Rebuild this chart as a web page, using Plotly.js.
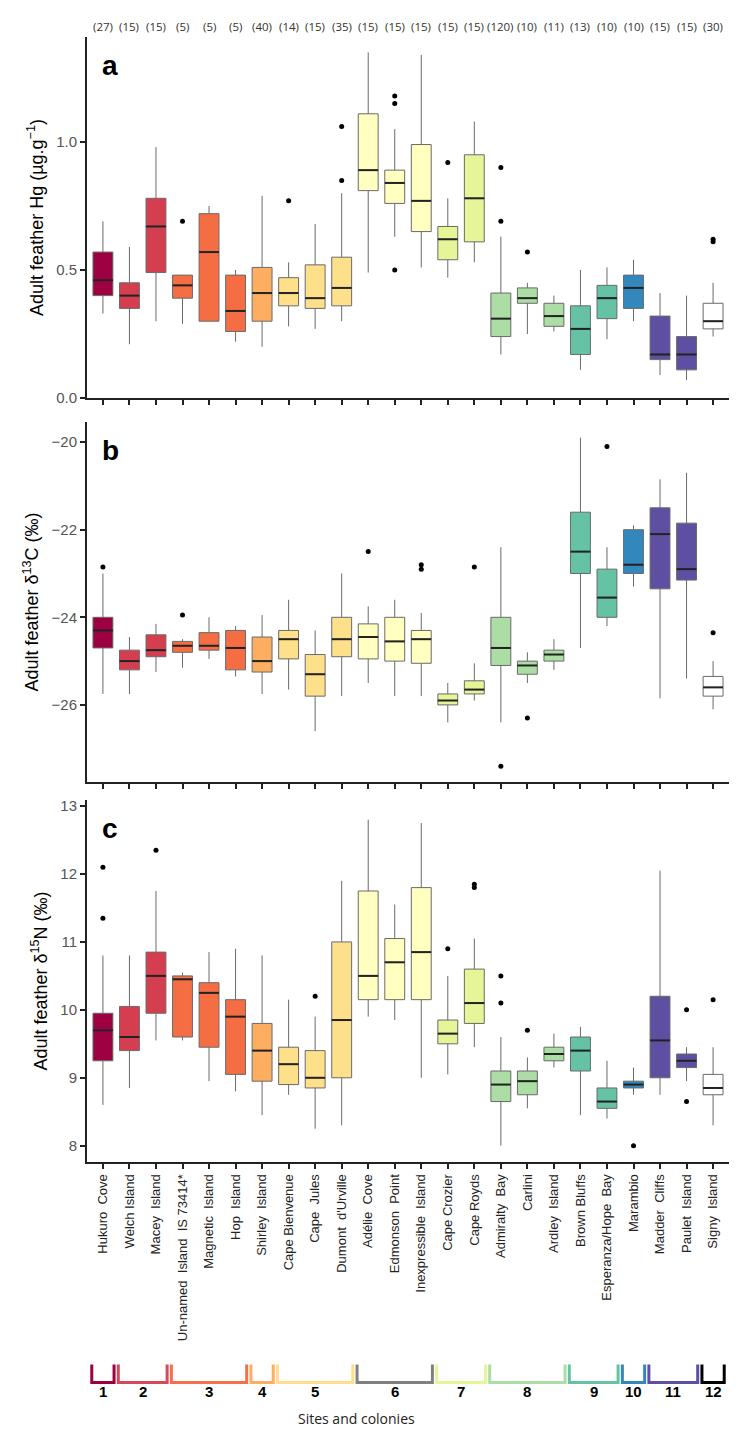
<!DOCTYPE html>
<html>
<head>
<meta charset="utf-8">
<script src="https://cdn.plot.ly/plotly-3.0.1.min.js"></script>
<style>body{margin:0;background:#fff}</style>
</head>
<body>
<div id="chart" style="width:749px;height:1441px"></div>
<script>
const S = "\u00a0";
const sites = ["Hukuro"+S+" Cove","Welch Island","Macey"+S+" Island","Un-named"+S+" Island"+S+" IS 73414*","Magnetic"+S+" Island",
  "Hop"+S+" Island","Shirley"+S+" Island","Cape Bienvenue","Cape"+S+" Jules","Dumont"+S+" d'Urville","Adélie"+S+" Cove",
  "Edmonson"+S+" Point","Inexpressible"+S+" Island","Cape Crozier","Cape Royds","Admiralty"+S+" Bay","Carlini",
  "Ardley"+S+" Island","Brown Bluffs","Esperanza/Hope"+S+" Bay","Marambio","Madder"+S+" Cliffs","Paulet"+S+" Island","Signy"+S+" Island"];
const counts = [27,15,15,5,5,5,40,14,15,35,15,15,15,15,15,120,10,11,13,10,10,15,15,30];
const siteColors = ["#9E0142","#D53E4F","#D53E4F","#F46D43","#F46D43","#F46D43","#FDAE61","#FEE08B","#FEE08B","#FEE08B",
  "#FFFFBF","#FFFFBF","#FFFFBF","#E6F598","#E6F598","#ABDDA4","#ABDDA4","#ABDDA4","#66C2A5","#66C2A5","#3288BD",
  "#5E4FA2","#5E4FA2","#FFFFFF"];

// [lower whisker, q1, median, q3, upper whisker]
const hgStats = [[0.33,0.40,0.46,0.57,0.69],[0.21,0.35,0.40,0.45,0.59],[0.30,0.49,0.67,0.78,0.98],[0.29,0.39,0.44,0.48,0.48],
  [0.30,0.30,0.57,0.72,0.75],[0.22,0.26,0.34,0.48,0.50],[0.20,0.30,0.41,0.51,0.79],[0.28,0.36,0.41,0.47,0.53],
  [0.27,0.35,0.39,0.52,0.68],[0.30,0.36,0.43,0.55,0.80],[0.49,0.81,0.89,1.11,1.35],[0.63,0.76,0.84,0.89,1.05],
  [0.51,0.65,0.77,0.99,1.34],[0.47,0.54,0.62,0.67,0.78],[0.53,0.61,0.78,0.95,1.08],[0.17,0.24,0.31,0.41,0.63],
  [0.25,0.37,0.39,0.43,0.45],[0.26,0.28,0.32,0.37,0.40],[0.11,0.17,0.27,0.36,0.50],[0.23,0.31,0.39,0.44,0.51],
  [0.30,0.35,0.43,0.48,0.54],[0.09,0.15,0.17,0.32,0.41],[0.07,0.11,0.17,0.24,0.40],[0.24,0.27,0.30,0.37,0.45]];
const hgOutX = [3,7,9,9,11,11,11,13,15,15,16,23,23];
const hgOutY = [0.69,0.77,0.85,1.06,1.18,1.15,0.50,0.92,0.69,0.90,0.57,0.61,0.62];

const c13Stats = [[-25.75,-24.7,-24.3,-24.0,-23.0],[-25.75,-25.2,-25.0,-24.75,-24.45],[-25.25,-24.9,-24.75,-24.4,-24.15],
  [-25.15,-24.8,-24.65,-24.55,-24.5],[-24.95,-24.75,-24.65,-24.35,-24.0],[-25.35,-25.2,-24.7,-24.3,-24.2],
  [-25.75,-25.25,-25.0,-24.45,-23.95],[-25.65,-24.95,-24.5,-24.3,-23.6],[-26.6,-25.8,-25.3,-24.85,-24.3],
  [-25.8,-24.9,-24.5,-24.0,-23.0],[-25.5,-24.95,-24.45,-24.15,-23.75],[-25.8,-25.0,-24.55,-24.0,-23.6],
  [-25.8,-25.05,-24.5,-24.3,-23.9],[-26.4,-26.0,-25.9,-25.75,-25.5],[-25.9,-25.75,-25.65,-25.45,-25.05],
  [-26.4,-25.1,-24.7,-24.0,-22.4],[-25.5,-25.3,-25.1,-25.0,-24.8],[-25.2,-25.0,-24.85,-24.75,-24.5],
  [-24.7,-23.0,-22.5,-21.6,-19.9],[-24.2,-24.0,-23.55,-22.9,-22.4],[-23.3,-23.0,-22.8,-22.0,-21.9],
  [-25.85,-23.35,-22.1,-21.5,-20.85],[-25.4,-23.15,-22.9,-21.85,-20.7],[-26.1,-25.8,-25.6,-25.35,-25.0]];
const c13OutX = [0,3,10,12,12,14,15,16,19,23];
const c13OutY = [-22.85,-23.95,-22.5,-22.8,-22.9,-22.85,-27.4,-26.3,-20.1,-24.35];

const n15Stats = [[8.6,9.25,9.7,9.95,10.8],[8.85,9.4,9.6,10.05,10.8],[9.55,9.95,10.5,10.85,11.75],[9.55,9.6,10.45,10.5,10.55],
  [8.95,9.45,10.25,10.4,10.85],[8.8,9.05,9.9,10.15,10.9],[8.45,8.95,9.4,9.8,10.8],[8.75,8.9,9.2,9.45,10.15],
  [8.25,8.85,9.0,9.4,9.9],[8.3,9.0,9.85,11.0,11.9],[9.9,10.15,10.5,11.75,12.8],[9.85,10.15,10.7,11.05,11.55],
  [9.0,10.15,10.85,11.8,12.75],[9.05,9.5,9.65,9.85,10.5],[9.45,9.8,10.1,10.6,11.05],[8.0,8.65,8.9,9.1,9.6],
  [8.55,8.75,8.95,9.1,9.3],[9.15,9.25,9.35,9.45,9.65],[8.45,9.1,9.4,9.6,9.75],[8.4,8.55,8.65,8.85,9.25],
  [8.75,8.85,8.9,8.95,9.15],[8.75,9.0,9.55,10.2,12.05],[8.95,9.15,9.25,9.35,9.45],[8.3,8.75,8.85,9.05,9.45]];
const n15OutX = [0,0,2,8,13,14,14,15,15,16,20,22,22,23];
const n15OutY = [11.35,12.1,12.35,10.2,10.9,11.85,11.8,10.1,10.5,9.7,8.0,8.65,10.0,10.15];

// site groups
const groupFirst = [0,1,3,6,7,10,13,15,18,20,21,23];
const groupLast  = [0,2,5,6,9,12,14,17,19,20,22,23];
const groupLabels = ["1","2","3","4","5","6","7","8","9","10","11","12"];
const groupColors = ["#9E0142","#D9485A","#F4704A","#FDAE61","#FEDF8E","#808080","#E6F598","#ABDDA4","#66C2A5","#3288BD","#5E4FA2","#000000"];

const panels = [
  {stats: hgStats, ox: hgOutX, oy: hgOutY, xa: "x3", ya: "y3"},
  {stats: c13Stats, ox: c13OutX, oy: c13OutY, xa: "x2", ya: "y2"},
  {stats: n15Stats, ox: n15OutX, oy: n15OutY, xa: "x", ya: "y"}
];

const BW = 0.75;
const traces = [];
panels.forEach(p => {
  const mx = [], my = [];
  p.stats.forEach((s, i) => {
    traces.push({
      type: "box", x: [i], lowerfence: [s[0]], q1: [s[1]], median: [s[2]], q3: [s[3]], upperfence: [s[4]],
      width: BW, whiskerwidth: 0, boxpoints: false,
      fillcolor: siteColors[i], line: {color: "#6a6a6a", width: 1},
      xaxis: p.xa, yaxis: p.ya, showlegend: false, hoverinfo: "skip"
    });
    mx.push(i - BW / 2, i + BW / 2, null);
    my.push(s[2], s[2], null);
  });
  traces.push({
    type: "scatter", mode: "lines", x: mx, y: my, xaxis: p.xa, yaxis: p.ya,
    line: {color: "#222", width: 2}, showlegend: false, hoverinfo: "skip"
  });
  traces.push({
    type: "scatter", mode: "markers", x: p.ox, y: p.oy, xaxis: p.xa, yaxis: p.ya,
    marker: {color: "#000", size: 5}, showlegend: false, hoverinfo: "skip"
  });
});

const idx = sites.map((_, i) => i);
const baseX = {
  range: [-0.6, 23.6], tickvals: idx, showline: true, linecolor: "#222", linewidth: 2,
  ticks: "outside", ticklen: 5, tickwidth: 2, tickcolor: "#222", showgrid: false, zeroline: false
};
const baseY = {
  showline: true, linecolor: "#222", linewidth: 2, ticks: "outside", ticklen: 5, tickwidth: 2, tickcolor: "#222",
  showgrid: false, zeroline: false, tickfont: {family: "Arial", size: 15, color: "#555"}
};
const yTitle = t => ({text: t, font: {family: "Arial", size: 18, color: "#000"}, standoff: 8});

const shapes = [];
const annotations = [];
groupFirst.forEach((g, k) => {
  const x0 = g - 0.42, x1 = groupLast[k] + 0.42;
  shapes.push({
    type: "path", xref: "x", yref: "paper",
    path: `M${x0},-0.180 L${x0},-0.196 L${x1},-0.196 L${x1},-0.180`,
    line: {color: groupColors[k], width: 3}
  });
  annotations.push({
    xref: "x", yref: "paper", x: (g + groupLast[k]) / 2, y: -0.213, text: "<b>" + groupLabels[k] + "</b>",
    showarrow: false, font: {family: "Arial", size: 15, color: "#000"}
  });
});
counts.forEach((n, i) => annotations.push({
  xref: "x", yref: "paper", x: i, y: 1.018, text: "(" + n + ")", showarrow: false,
  font: {family: "Open Sans", size: 11.5, color: "#333"}
}));
[["a", "y3 domain"], ["b", "y2 domain"], ["c", "y domain"]].forEach(([t, yr]) => annotations.push({
  xref: "paper", yref: yr, x: 0.02, y: 0.97, xanchor: "left", yanchor: "top", text: "<b>" + t + "</b>",
  showarrow: false, font: {family: "Arial", size: 28, color: "#000"}
}));
annotations.push({
  xref: "paper", yref: "paper", x: 0.42, y: -0.238, text: "Sites and colonies", showarrow: false,
  font: {family: "Open Sans", size: 14, color: "#222"}
});

const layout = {
  width: 749, height: 1441, margin: {l: 87, r: 20, t: 37, b: 279},
  paper_bgcolor: "#fff", plot_bgcolor: "#fff",
  xaxis: Object.assign({}, baseX, {anchor: "y", ticktext: sites, tickangle: -90,
    tickfont: {family: "Arial", size: 13, color: "#222"}}),
  xaxis2: Object.assign({}, baseX, {anchor: "y2", showticklabels: false}),
  xaxis3: Object.assign({}, baseX, {anchor: "y3", showticklabels: false}),
  yaxis: Object.assign({}, baseY, {domain: [0, 0.3218], range: [7.76, 13.09], tickvals: [8, 9, 10, 11, 12, 13],
    title: yTitle("Adult feather δ<sup>15</sup>N (‰)")}),
  yaxis2: Object.assign({}, baseY, {domain: [0.3378, 0.6578], range: [-27.76, -19.54], tickvals: [-26, -24, -22, -20],
    title: yTitle("Adult feather δ<sup>13</sup>C (‰)")}),
  yaxis3: Object.assign({}, baseY, {domain: [0.6791, 1], range: [0, 1.41], tickvals: [0, 0.5, 1], ticktext: ["0.0", "0.5", "1.0"],
    title: yTitle("Adult feather Hg (µg.g<sup>−1</sup>)")}),
  shapes, annotations
};

Plotly.newPlot("chart", traces, layout, {staticPlot: true});
</script>
</body>
</html>
